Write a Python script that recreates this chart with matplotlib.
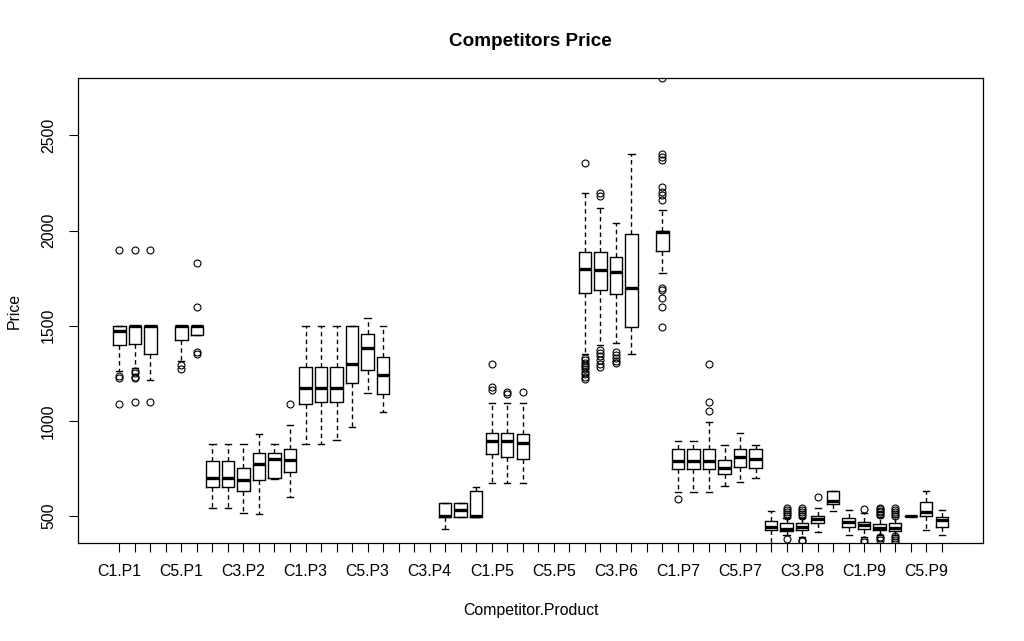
import matplotlib
matplotlib.use("Agg")
import matplotlib.pyplot as plt

plt.rcParams.update({'font.family': ['Liberation Sans', 'DejaVu Sans']})

competitors = ["C1", "C2", "C3", "C4", "C5", "C6"]
products = ["P1", "P2", "P3", "P4", "P5", "P6", "P7", "P8", "P9"]
categories = [c + "." + p for p in products for c in competitors]

# boxes that have data (others are empty)
boxes = ["C1.P1", "C2.P1", "C3.P1", "C5.P1", "C6.P1",
         "C1.P2", "C2.P2", "C3.P2", "C4.P2", "C5.P2", "C6.P2",
         "C1.P3", "C2.P3", "C3.P3", "C4.P3", "C5.P3", "C6.P3",
         "C4.P4", "C5.P4", "C6.P4",
         "C1.P5", "C2.P5", "C3.P5",
         "C1.P6", "C2.P6", "C3.P6", "C4.P6", "C6.P6",
         "C1.P7", "C2.P7", "C3.P7", "C4.P7", "C5.P7", "C6.P7",
         "C1.P8", "C2.P8", "C3.P8", "C4.P8", "C5.P8", "C6.P8",
         "C1.P9", "C2.P9", "C3.P9", "C4.P9", "C5.P9", "C6.P9"]

whislo = [1262, 1279, 1213, 1316, 1451,
          542, 542, 514, 509, 693, 598,
          878, 878, 897, 968, 1144, 1045,
          432, 493, 497,
          673, 673, 673,
          1351, 1398, 1408, 1350, 1775,
          628, 628, 628, 658, 680, 698,
          330, 400, 391, 416, 528, 400,
          391, 400, 398, 500, 426, 400]
q1 = [1397, 1402, 1350, 1425, 1451,
      651, 651, 630, 688, 701, 730,
      1087, 1097, 1097, 1198, 1265, 1139,
      493, 493, 497,
      824, 808, 798,
      1670, 1687, 1665, 1495, 1894,
      745, 745, 745, 721, 756, 751,
      428, 423, 426, 462, 563, 441,
      430, 426, 423, 500, 500, 441]
med = [1473, 1500, 1500, 1500, 1500,
       698, 698, 688, 772, 798, 793,
       1171, 1171, 1171, 1297, 1381, 1239,
       498, 530, 499,
       892, 892, 882,
       1796, 1791, 1780, 1696, 1995,
       787, 787, 787, 751, 810, 801,
       441, 430, 441, 483, 579, 467,
       453, 436, 438, 500, 519, 479]
q3 = [1500, 1500, 1500, 1500, 1500,
      789, 789, 751, 829, 829, 850,
      1284, 1284, 1284, 1497, 1455, 1334,
      567, 567, 630,
      935, 935, 929,
      1885, 1885, 1859, 1980, 2000,
      850, 850, 850, 796, 850, 850,
      475, 462, 462, 500, 633, 491,
      467, 460, 462, 500, 575, 493]
whishi = [1500, 1500, 1500, 1500, 1500,
          877, 877, 877, 929, 877, 978,
          1497, 1497, 1497, 1497, 1542, 1497,
          567, 567, 654,
          1095, 1095, 1095,
          2195, 2117, 2038, 2400, 2108,
          896, 896, 995, 875, 938, 875,
          528, 490, 490, 540, 633, 532,
          517, 495, 495, 500, 633, 532]
fliers = [[1900, 1235, 1226, 1090], [1900, 1262, 1250, 1232, 1223, 1098], [1900, 1098],
          [1295, 1274], [1830, 1600, 1362, 1350],
          [], [], [], [], [], [1087],
          [], [], [], [], [], [],
          [], [], [],
          [1299, 1176, 1162], [1153, 1141], [1150],
          [2353, 1330, 1318, 1306, 1295, 1284, 1270, 1258, 1245, 1232, 1220],
          [2195, 2184, 1372, 1355, 1340, 1320, 1300, 1285],
          [1363, 1345, 1330, 1315, 1302],
          [],
          [2800, 2405, 2388, 2370, 2230, 2204, 2186, 2160, 1700, 1690, 1647, 1596, 1495],
          [588], [], [1297, 1097, 1052], [], [], [],
          [], [500, 510, 520, 530, 540, 379], [500, 510, 520, 530, 540, 375, 368],
          [601], [], [],
          [535, 374, 362], [505, 512, 520, 528, 535, 540, 392, 382, 372],
          [500, 510, 520, 530, 540, 395, 385, 375, 365], [], [], []]

yticks = [500, 1000, 1500, 2000, 2500]

fig = plt.figure(figsize=(10.24, 6.41), dpi=100)
ax = fig.add_axes([0.0762, 0.1534, 0.8838, 0.7244])

pos = [categories.index(b) + 1 for b in boxes]
stats = [dict(whislo=a, q1=b, med=c, q3=d, whishi=e, fliers=f)
         for a, b, c, d, e, f in zip(whislo, q1, med, q3, whishi, fliers)]

ax.bxp(stats, positions=pos, widths=0.8, capwidths=0.4, patch_artist=False,
       boxprops=dict(color='black', lw=1.0),
       medianprops=dict(color='black', lw=2.4, solid_capstyle='butt'),
       whiskerprops=dict(color='black', lw=1.0, linestyle=(0, (3.2, 2.4))),
       capprops=dict(color='black', lw=1.0),
       flierprops=dict(marker='o', markerfacecolor='none', markeredgecolor='black',
                       markersize=5, markeredgewidth=0.8))

n = len(categories)
ax.set_xlim(0.5 - 0.04 * n, n + 0.5 + 0.04 * n)
ax.set_ylim(360, 2800)

ax.set_xticks(range(1, n + 1))
ax.set_xticklabels([c if i % 4 == 0 else "" for i, c in enumerate(categories)], fontsize=11.4)
ax.set_yticks(yticks)
ax.set_yticklabels([str(v) for v in yticks], rotation=90, va='center', fontsize=11.4)
ax.tick_params(axis='both', direction='out', length=6.7, width=0.8, color='black')
ax.tick_params(axis='x', pad=9)
ax.tick_params(axis='y', pad=9)
for s in ax.spines.values():
    s.set_linewidth(0.9)

ax.set_xlabel("Competitor.Product", fontsize=11.4, labelpad=17)
ax.set_ylabel("Price", fontsize=11.4, labelpad=14)
ax.set_title("Competitors Price", fontsize=13.6, fontweight='bold', pad=23)

fig.savefig("out.png", dpi=100, facecolor='white')
